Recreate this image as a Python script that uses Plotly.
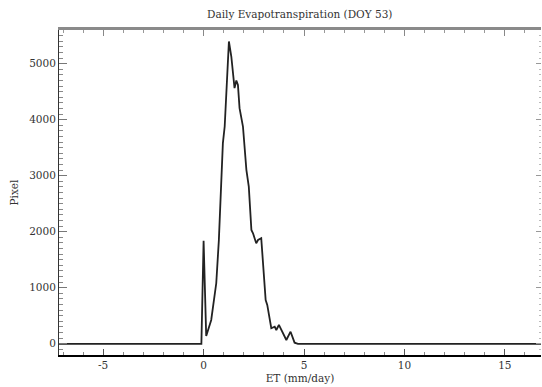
import plotly.graph_objects as go

# Histogram of daily ET values (mm/day) vs. pixel counts
et_mm_day = [-7.2, -3.0, -0.11, 0.0, 0.13, 0.38, 0.63, 0.76, 0.88, 0.96, 1.05,
             1.26, 1.38, 1.54, 1.63, 1.71, 1.79, 1.96, 2.13, 2.25, 2.38, 2.46,
             2.62, 2.71, 2.87, 3.09, 3.17, 3.37, 3.54, 3.62, 3.75, 3.95, 4.12,
             4.33, 4.53, 4.7, 10.0, 16.8]
pixel_count = [0, 0, 0, 1840, 140, 425, 1080, 1850, 3045, 3580, 3877,
               5395, 5127, 4562, 4698, 4621, 4205, 3877, 3104, 2805, 2032, 1973,
               1795, 1853, 1884, 782, 693, 277, 305, 246, 336, 187, 68,
               216, 20, 0, 0, 0]

x_tick_vals = [-5, 0, 5, 10, 15]
x_tick_text = ["-5", "0", "5", "10", "15"]
y_tick_vals = [0, 1000, 2000, 3000, 4000, 5000]
y_tick_text = ["0", "1000", "2000", "3000", "4000", "5000"]

x_range = [-7.2, 16.8]
y_range = [-200, 5600]

serif = "DejaVu Serif"

fig = go.Figure()
fig.add_trace(go.Scatter(
    x=et_mm_day, y=pixel_count, mode="lines",
    line=dict(color="#222222", width=1.8),
    showlegend=False, hoverinfo="skip",
))

fig.update_layout(
    width=542, height=387,
    margin=dict(l=59, r=1, t=30, b=32),
    paper_bgcolor="white", plot_bgcolor="white",
    font=dict(family=serif, size=10.5, color="#333333"),
    title=dict(text="Daily Evapotranspiration (DOY 53)", x=0.553, xanchor="center",
               y=0.962, yanchor="middle", font=dict(family=serif, size=10.5, color="#333333")),
    xaxis=dict(
        range=x_range, tickvals=x_tick_vals, ticktext=x_tick_text,
        showgrid=False, zeroline=False, showline=True, linecolor="black", linewidth=1.5,
        ticks="inside", ticklen=6, tickcolor="#555555", tickwidth=1,
        minor=dict(dtick=1, ticks="inside", ticklen=3, tickcolor="#888888"),
        title=dict(text="ET (mm/day)", standoff=4, font=dict(family=serif, size=10.5)),
    ),
    yaxis=dict(
        range=y_range, tickvals=y_tick_vals, ticktext=y_tick_text,
        showgrid=False, zeroline=False, showline=True, linecolor="#333333", linewidth=1,
        ticks="inside", ticklen=8, tickcolor="#777777", tickwidth=1,
        minor=dict(dtick=100, ticks="inside", ticklen=4, tickcolor="#888888"),
        title=dict(text="Pixel", standoff=8, font=dict(family=serif, size=10.5)),
    ),
    xaxis2=dict(
        range=x_range, overlaying="x", side="top", tickvals=x_tick_vals,
        showticklabels=False, showgrid=False, zeroline=False,
        showline=True, linecolor="#8a8a8a", linewidth=2.5,
        ticks="inside", ticklen=6, tickcolor="#888888",
        minor=dict(dtick=1, ticks="inside", ticklen=3, tickcolor="#999999"),
    ),
    yaxis2=dict(
        range=y_range, overlaying="y", side="right", tickvals=y_tick_vals,
        showticklabels=False, showgrid=False, zeroline=False, showline=False,
        ticks="inside", ticklen=5, tickcolor="#999999",
        minor=dict(dtick=100, ticks="inside", ticklen=2, tickcolor="#bbbbbb"),
    ),
)

# Invisible trace to activate the mirrored top/right axes
fig.add_trace(go.Scatter(x=[x_range[0]], y=[y_range[0]], xaxis="x2", yaxis="y2",
                         mode="markers", marker=dict(opacity=0), showlegend=False,
                         hoverinfo="skip"))

fig.write_html("out.html")
